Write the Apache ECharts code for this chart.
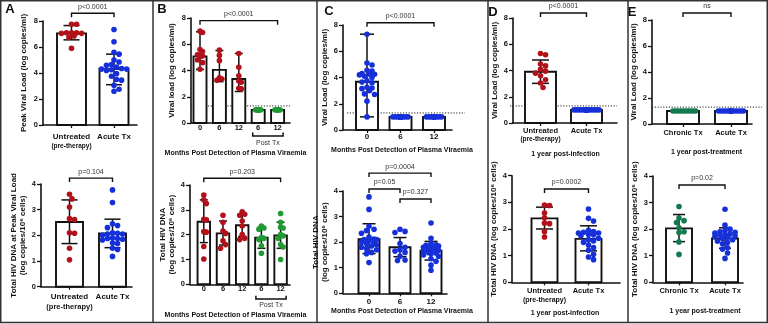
<!DOCTYPE html>
<html lang="en">
<head>
<meta charset="UTF-8">
<title>Viral load and total HIV DNA</title>
<script src="https://cdn.jsdelivr.net/npm/echarts@6/dist/echarts.min.js"></script>
<style>
  * { margin: 0; padding: 0; }
  html, body { background: #fff; }
  #main { width: 768px; height: 324px; }
</style>
</head>
<body>
<div id="main"></div>
<script>
// ---------- data ----------
const RED = '#b3111a', BLUE = '#1630d9', GREEN = '#1f9a35', DKGREEN = '#137a4e';

// A: peak viraemia
const aCats = [['Untreated', '(pre-therapy)'], ['Acute Tx']];
const aVlMean = [7.05, 4.3];
const aVlSd = [[6.55, 7.65], [3.1, 5.45]];
const aVlUntreated = [7.75, 7.75, 7.1, 7.05, 7.1, 7.05, 7.1, 6.85, 6.75, 5.9];
const aVlAcute = [7.35, 6.4, 5.6, 5.45, 5.0, 4.85, 4.65, 4.6, 4.45, 4.35, 4.3, 4.3, 4.25, 4.2, 3.95, 3.75, 3.5, 3.45, 3.05, 2.75, 2.6];
const aDnaMean = [2.52, 2.07];
const aDnaSd = [[1.68, 3.38], [1.52, 2.63]];
const aDnaUntreated = [3.6, 3.42, 3.1, 2.65, 2.62, 2.1, 2.08, 1.5, 1.05];
const aDnaAcute = [3.77, 3.28, 2.45, 2.38, 2.3, 2.1, 2.08, 2.05, 2.05, 2.0, 1.9, 1.88, 1.88, 1.85, 1.82, 1.7, 1.68, 1.5, 1.45, 1.18];
const aPvals = ['p<0.0001', 'p=0.104'];

// B: months post detection, untreated then post Tx
const bCats = [['0'], ['6'], ['12'], ['6'], ['12']];
const bVlMean = [5.08, 4.05, 3.35, 1.0, 1.0];
const bVlSd = [[4.08, 6.95], [3.15, 5.52], [2.4, 5.3], [1.0, 1.0], [1.0, 1.0]];
const bVlPoints = [
  [7.0, 6.9, 5.6, 5.45, 5.2, 5.1, 5.05, 4.8, 4.6, 4.1],
  [5.55, 5.15, 4.75, 3.45, 3.35, 3.25],
  [5.3, 4.25, 3.6, 3.2, 3.1, 2.65, 2.6],
  [1, 1, 1, 1, 1, 1, 1, 1],
  [1, 1, 1, 1, 1, 1, 1, 1]
];
const bDnaMean = [2.52, 2.05, 2.38, 1.88, 1.97];
const bDnaSd = [[1.68, 3.4], [1.58, 2.55], [1.93, 2.82], [1.45, 2.3], [1.45, 2.5]];
const bDnaPoints = [
  [3.6, 3.4, 3.25, 2.62, 2.6, 2.12, 2.1, 1.52, 1.02],
  [2.78, 2.5, 2.15, 2.05, 1.75, 1.6, 1.45],
  [2.92, 2.82, 2.78, 2.55, 2.35, 2.0, 1.85, 1.8],
  [2.35, 2.27, 2.22, 1.88, 1.85, 1.8, 1.55, 1.25],
  [2.85, 2.5, 2.3, 2.27, 2.0, 1.95, 1.85, 1.6, 1.5, 1.0]
];
const bPvals = ['p<0.0001', 'p=0.203'];

// C: acute Tx group over time
const cCats = [['0'], ['6'], ['12']];
const cVlMean = [3.68, 1.0, 1.0];
const cVlSd = [[1.0, 7.3], [1.0, 1.0], [1.0, 1.0]];
const cVlPoints = [
  [7.3, 5.1, 4.95, 4.55, 4.5, 4.3, 4.25, 4.25, 4.2, 4.1, 4.0, 3.75, 3.65, 3.6, 3.25, 3.2, 3.15, 3.0, 2.75, 2.7, 2.2, 1.0],
  [1, 1, 1, 1, 1, 1, 1, 1, 1, 1, 1, 1, 1, 1, 1, 1, 1, 1, 1, 1, 1, 1],
  [1, 1, 1, 1, 1, 1, 1, 1, 1, 1, 1, 1, 1, 1, 1, 1, 1, 1, 1, 1, 1, 1]
];
const cDnaMean = [2.12, 1.8, 1.67];
const cDnaSd = [[1.55, 2.72], [1.43, 2.18], [1.3, 2.03]];
const cDnaPoints = [
  [3.77, 3.28, 2.62, 2.5, 2.45, 2.35, 2.2, 2.12, 2.1, 2.1, 2.05, 2.0, 2.0, 1.95, 1.9, 1.85, 1.8, 1.75, 1.7, 1.6, 1.55, 1.2],
  [2.5, 2.42, 2.38, 1.95, 1.8, 1.7, 1.65, 1.6, 1.45, 1.3, 1.28],
  [2.75, 2.15, 1.95, 1.9, 1.88, 1.85, 1.82, 1.8, 1.78, 1.75, 1.7, 1.68, 1.65, 1.6, 1.58, 1.55, 1.5, 1.45, 1.35, 1.25, 1.1, 0.9]
];
const cPvalsTop = ['p<0.0001'];
const cPvalsBottom = ['p=0.0004', 'p=0.05', 'p=0.327'];

// D: 1 year post-infection
const dCats = [['Untreated', '(pre-therapy)'], ['Acute Tx']];
const dVlMean = [3.9, 1.0];
const dVlSd = [[3.02, 4.8], [1.0, 1.0]];
const dVlUntreated = [5.3, 5.2, 4.5, 4.35, 4.1, 3.95, 3.8, 3.6, 3.3, 3.05, 2.7];
const dVlAcute = [1, 1, 1, 1, 1, 1, 1, 1, 1, 1, 1, 1, 1, 1, 1, 1, 1, 1, 1, 1, 1, 1];
const dDnaMean = [2.4, 1.63];
const dDnaSd = [[2.0, 2.82], [1.18, 2.12]];
const dDnaUntreated = [2.9, 2.88, 2.6, 2.42, 2.22, 2.2, 1.9, 1.7];
const dDnaAcute = [2.75, 2.4, 2.3, 1.95, 1.9, 1.88, 1.85, 1.85, 1.8, 1.78, 1.75, 1.65, 1.6, 1.55, 1.5, 1.4, 1.3, 1.2, 1.05, 0.95, 0.85];
const dPvals = ['p<0.0001', 'p=0.0002'];

// E: 1 year post-treatment
const eCats = [['Chronic Tx'], ['Acute Tx']];
const eVlMean = [1.0, 1.0];
const eVlSd = [[1.0, 1.0], [1.0, 1.0]];
const eVlChronic = [1, 1, 1, 1, 1, 1, 1, 1, 1, 1];
const eVlAcute = [1, 1, 1, 1, 1, 1, 1, 1, 1, 1, 1, 1, 1, 1, 1, 1, 1, 1, 1, 1, 1, 1];
const eDnaMean = [2.03, 1.65];
const eDnaSd = [[1.53, 2.55], [1.28, 2.05]];
const eDnaChronic = [2.85, 2.42, 2.32, 2.25, 2.05, 1.9, 1.87, 1.52, 1.05];
const eDnaAcute = [2.75, 2.15, 2.0, 1.95, 1.9, 1.88, 1.85, 1.82, 1.8, 1.78, 1.75, 1.72, 1.7, 1.65, 1.6, 1.55, 1.5, 1.45, 1.3, 1.25, 1.1, 0.9];
const ePvals = ['ns', 'p=0.02'];

const LOD = 1.3; // detection limit line

// ---------- layout (pixels) ----------
const LAYOUT = {
  aTop: { left: 43, right: 137, top: 21, bottom: 125, centers: [71.5, 114], barW: 29, capW: 16, nameGap: 14, labelMargin: 6.5, lineH: [10, 10], subSize: 6.5, brackets: [8.6] },
  aBot: { left: 41, right: 132, top: 184, bottom: 286.7, centers: [69.5, 112.5], barW: 27, capW: 16, nameGap: 13, labelMargin: 5, lineH: [10, 10], subSize: 7.5, brackets: [4.23] },
  bTop: { left: 191, right: 290, top: 18, bottom: 123, centers: [200, 219.4, 238.8, 258.2, 277.6], barW: 13, capW: 8, nameGap: 14, labelMargin: 1, lineH: [8, 8], noTicks: true, brackets: [7.8], lod: [191, 290], post: [13, 9.5, 19.7] },
  bBot: { left: 190, right: 290, top: 185, bottom: 284.3, centers: [203.8, 223, 242.2, 261.4, 280.6], barW: 12.5, capW: 8, nameGap: 10.5, labelMargin: 0.5, lineH: [8, 8], noTicks: true, brackets: [4.27], post: [14.7, 11.4, 20.7] },
  cTop: { left: 343, right: 452, top: 25, bottom: 130, centers: [367, 400.5, 434], barW: 22, capW: 14, nameGap: 13, labelMargin: 3, lineH: [8, 8], brackets: [8.17], lod: [347, 465] },
  cBot: { left: 343, right: 447, top: 191, bottom: 293.3, centers: [369, 400, 431], barW: 21, capW: 13, nameGap: 8, labelMargin: 4.5, lineH: [8, 8], brackets: [4.7, 4.08, 3.69] },
  dTop: { left: 513, right: 617, top: 18, bottom: 123, centers: [540.5, 586.5], barW: 31, capW: 17, nameGap: 12, labelMargin: 4, lineH: [8, 8], subSize: 6.5, catSize: 7.5, brackets: [8.38], lod: [510, 617] },
  dBot: { left: 512, right: 620, top: 175.7, bottom: 282.3, centers: [544.5, 588.5], barW: 26, capW: 17, nameGap: 12, labelMargin: 4.5, lineH: [9, 9], subSize: 7, catSize: 7.5, brackets: [3.5] },
  eTop: { left: 652, right: 752, top: 20, bottom: 124, centers: [683, 731], barW: 32, capW: 12, nameGap: 12, labelMargin: 5, lineH: [8, 8], catSize: 7.5, brackets: [8.54], lod: [652, 762] },
  eBot: { left: 653, right: 743, top: 176, bottom: 282.3, centers: [679, 725], barW: 26, capW: 12, nameGap: 12, labelMargin: 4.5, lineH: [8, 8], catSize: 7.5, brackets: [3.66] }
};

const FONT = '"Liberation Sans", Arial, sans-serif';
const INK = '#111';
const DOT = 5.6;

const grids = [], xAxes = [], yAxes = [], series = [];

// simple beeswarm: offsets (px) so dots of one group don't overlap
function swarm(vals, pxPerY, maxHalf) {
  const r = DOT / 2, step = r * 0.9;
  const order = vals.map((v, j) => j).sort((a, b) => vals[b] - vals[a]);
  const placed = [], off = [];
  order.forEach(j => {
    const y = vals[j] * pxPerY;
    let best = 0, bestD = -1;
    for (let k = 0; k < 60; k++) {
      const x = Math.ceil(k / 2) * (k % 2 ? 1 : -1) * step;
      if (Math.abs(x) > maxHalf) continue;
      let d = Infinity;
      placed.forEach(q => { d = Math.min(d, Math.hypot(q[0] - x, q[1] - y)); });
      if (d >= 2 * r * 0.85) { best = x; break; }
      if (d > bestD) { bestD = d; best = x; }
    }
    placed.push([best, y]);
    off[j] = best;
  });
  return off;
}

function addPanel(box, o) {
  const gi = grids.length;
  const n = o.cats.length;
  const c0 = box.centers[0], cN = box.centers[n - 1];
  const unit = (cN - c0) / (n - 1);
  const xMin = -(c0 - box.left) / unit;
  const xMax = (n - 1) + (box.right - cN) / unit;
  const pxPerY = (box.bottom - box.top) / o.yMax;
  const idx = o.cats.map((c, k) => k);
  const catSize = box.catSize || 8;

  grids.push({ left: box.left, top: box.top, width: box.right - box.left, height: box.bottom - box.top });
  xAxes.push({
    gridIndex: gi, type: 'value', min: xMin, max: xMax,
    splitLine: { show: false },
    axisLine: { show: true, onZero: false, lineStyle: { color: INK, width: 1.6 } },
    axisTick: { show: !box.noTicks, customValues: idx, length: 3, lineStyle: { color: INK, width: 1.3 } },
    axisLabel: {
      customValues: idx, margin: box.labelMargin, color: INK,
      formatter: v => {
        const lines = o.cats[Math.round(v)];
        return lines.length > 1 ? '{a|' + lines[0] + '}\n{b|' + lines[1] + '}' : '{a|' + lines[0] + '}';
      },
      rich: {
        a: { fontFamily: FONT, fontWeight: 'bold', fontSize: box.noTicks ? 7.5 : catSize, lineHeight: box.lineH[0], color: INK },
        b: { fontFamily: FONT, fontWeight: 'bold', fontSize: box.subSize || 7, lineHeight: box.lineH[1], color: INK }
      }
    }
  });
  yAxes.push({
    gridIndex: gi, type: 'value', min: 0, max: o.yMax, interval: o.yStep,
    name: o.yName, nameLocation: 'middle', nameGap: box.nameGap,
    nameTextStyle: { fontFamily: FONT, fontWeight: 'bold', fontSize: 8, lineHeight: 9.5, color: INK },
    splitLine: { show: false },
    axisLine: { show: true, onZero: false, lineStyle: { color: INK, width: 1.6 } },
    axisTick: { show: true, length: 4, lineStyle: { color: INK, width: 1.3 } },
    axisLabel: { margin: 5, fontFamily: FONT, fontWeight: 'bold', fontSize: 7.5, color: INK }
  });

  const barData = o.means.map((m, k) => [k, m, o.sd[k][0], o.sd[k][1]]);
  const ax = { xAxisIndex: gi, yAxisIndex: gi, silent: true };

  // detection limit
  if (box.lod) {
    series.push(Object.assign({
      type: 'custom', data: [[0, LOD]],
      renderItem: (p, api) => {
        const y = api.coord([0, api.value(1)])[1];
        return { type: 'line', shape: { x1: box.lod[0], y1: y, x2: box.lod[1], y2: y }, style: { stroke: '#222', lineWidth: 1, lineDash: [1.2, 1.6] } };
      }
    }, ax));
  }

  // bars
  series.push(Object.assign({
    type: 'custom', data: barData,
    renderItem: (p, api) => {
      const t = api.coord([api.value(0), api.value(1)]);
      const b = api.coord([api.value(0), 0]);
      return { type: 'rect', shape: { x: t[0] - box.barW / 2, y: t[1], width: box.barW, height: b[1] - t[1] }, style: { fill: '#fff', stroke: INK, lineWidth: 1.9 } };
    }
  }, ax));

  // individual points
  o.points.forEach((vals, k) => {
    const offs = swarm(vals, pxPerY, box.barW / 2 - 1.5);
    series.push(Object.assign({
      type: 'scatter', symbol: 'circle', symbolSize: DOT,
      itemStyle: { color: o.colors[k], opacity: 1 },
      data: vals.map((v, j) => [k + offs[j] / unit, v])
    }, ax));
  });

  // error bars
  series.push(Object.assign({
    type: 'custom', data: barData,
    renderItem: (p, api) => {
      const x = api.value(0);
      const lo = api.coord([x, api.value(2)]), hi = api.coord([x, api.value(3)]);
      if (Math.abs(lo[1] - hi[1]) < 0.5) return { type: 'group', children: [] };
      const s = { stroke: INK, lineWidth: 1.5 };
      const c = box.capW / 2;
      return { type: 'group', children: [
        { type: 'line', shape: { x1: lo[0], y1: lo[1], x2: hi[0], y2: hi[1] }, style: s },
        { type: 'line', shape: { x1: lo[0] - c, y1: lo[1], x2: lo[0] + c, y2: lo[1] }, style: s },
        { type: 'line', shape: { x1: hi[0] - c, y1: hi[1], x2: hi[0] + c, y2: hi[1] }, style: s }
      ] };
    }
  }, ax));

  // significance brackets
  series.push(Object.assign({
    type: 'custom', data: o.brackets.map((b, j) => [b[0], b[1], box.brackets[j]]),
    renderItem: (p, api) => {
      const p1 = api.coord([api.value(0), api.value(2)]);
      const p2 = api.coord([api.value(1), api.value(2)]);
      return { type: 'group', children: [
        { type: 'polyline', shape: { points: [[p1[0], p1[1] + 4], p1, p2, [p2[0], p2[1] + 4]] }, style: { stroke: INK, lineWidth: 1.4, fill: null } },
        { type: 'text', style: { text: o.brackets[p.dataIndex][2], x: (p1[0] + p2[0]) / 2, y: p1[1] - 6.5, textAlign: 'center', textVerticalAlign: 'middle', font: '7px ' + FONT, fill: '#333' } }
      ] };
    }
  }, ax));

  // "Post Tx" grouping under the last two categories
  if (box.post) {
    series.push(Object.assign({
      type: 'custom', data: [[n - 2, n - 1]],
      renderItem: (p, api) => {
        const a = api.coord([api.value(0), 0]), b = api.coord([api.value(1), 0]);
        const y = a[1] + box.post[0], ye = a[1] + box.post[1];
        return { type: 'group', children: [
          { type: 'polyline', shape: { points: [[a[0] - 5.5, ye], [a[0] - 5.5, y], [b[0] + 5.5, y], [b[0] + 5.5, ye]] }, style: { stroke: INK, lineWidth: 1.5, fill: null } },
          { type: 'text', style: { text: 'Post Tx', x: (a[0] + b[0]) / 2, y: a[1] + box.post[2], textAlign: 'center', textVerticalAlign: 'middle', font: '7px ' + FONT, fill: '#333' } }
        ] };
      }
    }, ax));
  }
}

const VL = 'Viral Load (log copies/ml)';
const DNA2 = 'Total HIV DNA\n(log copies/10⁶ cells)';
const DNA1 = 'Total HIV DNA (log copies/10⁶ cells)';

addPanel(LAYOUT.aTop, { cats: aCats, yMax: 8, yStep: 2, yName: 'Peak Viral Load (log copies/ml)', means: aVlMean, sd: aVlSd, points: [aVlUntreated, aVlAcute], colors: [RED, BLUE], brackets: [[0, 1, aPvals[0]]] });
addPanel(LAYOUT.aBot, { cats: aCats, yMax: 4, yStep: 1, yName: 'Total HIV DNA at Peak Viral Load\n(log copies/10⁶ cells)', means: aDnaMean, sd: aDnaSd, points: [aDnaUntreated, aDnaAcute], colors: [RED, BLUE], brackets: [[0, 1, aPvals[1]]] });
addPanel(LAYOUT.bTop, { cats: bCats, yMax: 8, yStep: 2, yName: 'Viral load (log copies/ml)', means: bVlMean, sd: bVlSd, points: bVlPoints, colors: [RED, RED, RED, GREEN, GREEN], brackets: [[0, 4, bPvals[0]]] });
addPanel(LAYOUT.bBot, { cats: bCats, yMax: 4, yStep: 1, yName: DNA2, means: bDnaMean, sd: bDnaSd, points: bDnaPoints, colors: [RED, RED, RED, GREEN, GREEN], brackets: [[0, 4, bPvals[1]]] });
addPanel(LAYOUT.cTop, { cats: cCats, yMax: 8, yStep: 2, yName: VL, means: cVlMean, sd: cVlSd, points: cVlPoints, colors: [BLUE, BLUE, BLUE], brackets: [[0, 2, cPvalsTop[0]]] });
addPanel(LAYOUT.cBot, { cats: cCats, yMax: 4, yStep: 1, yName: DNA2, means: cDnaMean, sd: cDnaSd, points: cDnaPoints, colors: [BLUE, BLUE, BLUE], brackets: [[0, 2, cPvalsBottom[0]], [0, 1, cPvalsBottom[1]], [1, 2, cPvalsBottom[2]]] });
addPanel(LAYOUT.dTop, { cats: dCats, yMax: 8, yStep: 2, yName: VL, means: dVlMean, sd: dVlSd, points: [dVlUntreated, dVlAcute], colors: [RED, BLUE], brackets: [[0, 1, dPvals[0]]] });
addPanel(LAYOUT.dBot, { cats: dCats, yMax: 4, yStep: 1, yName: DNA1, means: dDnaMean, sd: dDnaSd, points: [dDnaUntreated, dDnaAcute], colors: [RED, BLUE], brackets: [[0, 1, dPvals[1]]] });
addPanel(LAYOUT.eTop, { cats: eCats, yMax: 8, yStep: 2, yName: VL, means: eVlMean, sd: eVlSd, points: [eVlChronic, eVlAcute], colors: [DKGREEN, BLUE], brackets: [[0, 1, ePvals[0]]] });
addPanel(LAYOUT.eBot, { cats: eCats, yMax: 4, yStep: 1, yName: DNA1, means: eDnaMean, sd: eDnaSd, points: [eDnaChronic, eDnaAcute], colors: [DKGREEN, BLUE], brackets: [[0, 1, ePvals[1]]] });

// panel frame, letters and x titles
const txt = (s, x, y, size, bold) => ({ type: 'text', silent: true, style: { text: s, x: x, y: y, textAlign: 'center', textVerticalAlign: 'middle', font: (bold ? 'bold ' : '') + size + 'px ' + FONT, fill: INK } });
const vline = x => ({ type: 'line', silent: true, shape: { x1: x, y1: 0.75, x2: x, y2: 322.5 }, style: { stroke: '#333', lineWidth: 1.5 } });
const MONTHS = 'Months Post Detection of Plasma Viraemia';

const graphic = [
  { type: 'rect', silent: true, shape: { x: 0.75, y: 0.75, width: 766.5, height: 321.75 }, style: { fill: null, stroke: '#333', lineWidth: 1.5 } },
  vline(153), vline(317), vline(488), vline(628),
  txt('A', 10, 9, 13, true), txt('B', 162, 9, 13, true), txt('C', 329, 11, 13, true), txt('D', 493, 12, 13, true), txt('E', 632, 12, 13, true),
  txt(MONTHS, 235.5, 152.7, 7, true), txt(MONTHS, 235.5, 315, 7, true),
  txt(MONTHS, 402, 150, 7, true), txt(MONTHS, 402, 311, 7, true),
  txt('1 year post-infection', 565.5, 154, 7, true), txt('1 year post-infection', 565, 313, 7, true),
  txt('1 year post-treatment', 706.5, 152, 7, true), txt('1 year post-treatment', 705, 311, 7, true)
];

const chart = echarts.init(document.getElementById('main'), null, { renderer: 'canvas' });
chart.setOption({
  animation: false,
  backgroundColor: '#fff',
  grid: grids,
  xAxis: xAxes,
  yAxis: yAxes,
  series: series,
  graphic: graphic
});
</script>
</body>
</html>
